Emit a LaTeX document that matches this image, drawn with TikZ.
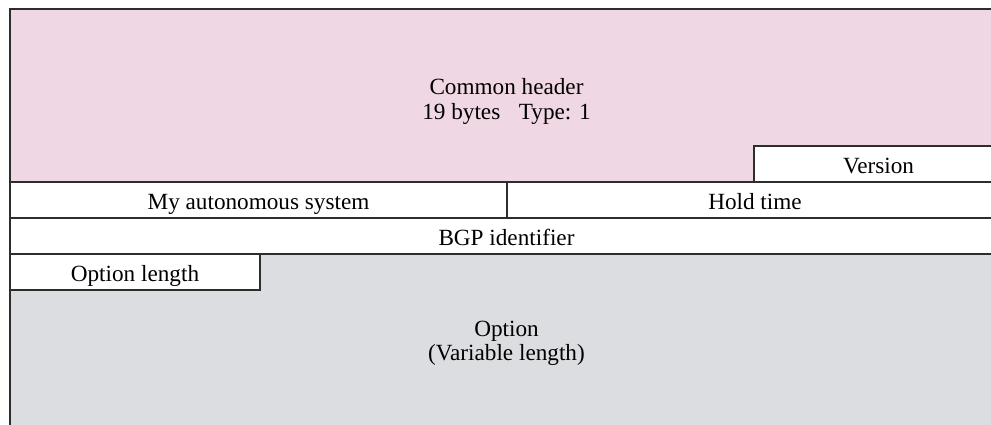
\documentclass[tikz,border=0pt]{standalone}
\usepackage{fontspec}
\setmainfont{Liberation Serif}
\usepackage{xcolor}
\usepackage{tikz}
\definecolor{headerpink}{RGB}{240,215,228}
\definecolor{optiongray}{RGB}{220,221,224}
\definecolor{edgegray}{RGB}{45,45,45}

\begin{document}
\begin{tikzpicture}[x=1pt, y=-1pt, line width=1.3pt,
    field/.style={draw=edgegray, rectangle, anchor=north west, inner sep=0pt,
                  outer sep=0pt, align=center, fill=white,
                  font=\fontsize{23.2}{24.5}\selectfont},
    slot/.style={field, minimum height=36pt, text height=18.5pt, text depth=0pt}]
      \useasboundingbox (0,0) rectangle (991,425);
      \clip (0,0) rectangle (991,425);
      \node[field, fill=headerpink, minimum width=993pt,
            minimum height=185pt] (H) at (10,9) {Common header\\19 bytes\hspace{0.8em}Type: 1};
      \node[slot, minimum width=249pt] (Ver) at (754,146) {Version};
      \node[slot, minimum width=497pt] (AS) at (10,182) {My autonomous system};
      \node[slot, minimum width=496pt] (Hold) at (507,182) {Hold time};
      \node[slot, minimum width=993pt] (BGP) at (10,218) {BGP identifier};
      \node[field, fill=optiongray, minimum width=993pt,
            minimum height=179pt] (Opt) at (10,254) {Option\\(Variable length)};
      \node[slot, minimum width=250pt] (OptLen) at (10,254) {Option length};
    \end{tikzpicture}
\end{document}
